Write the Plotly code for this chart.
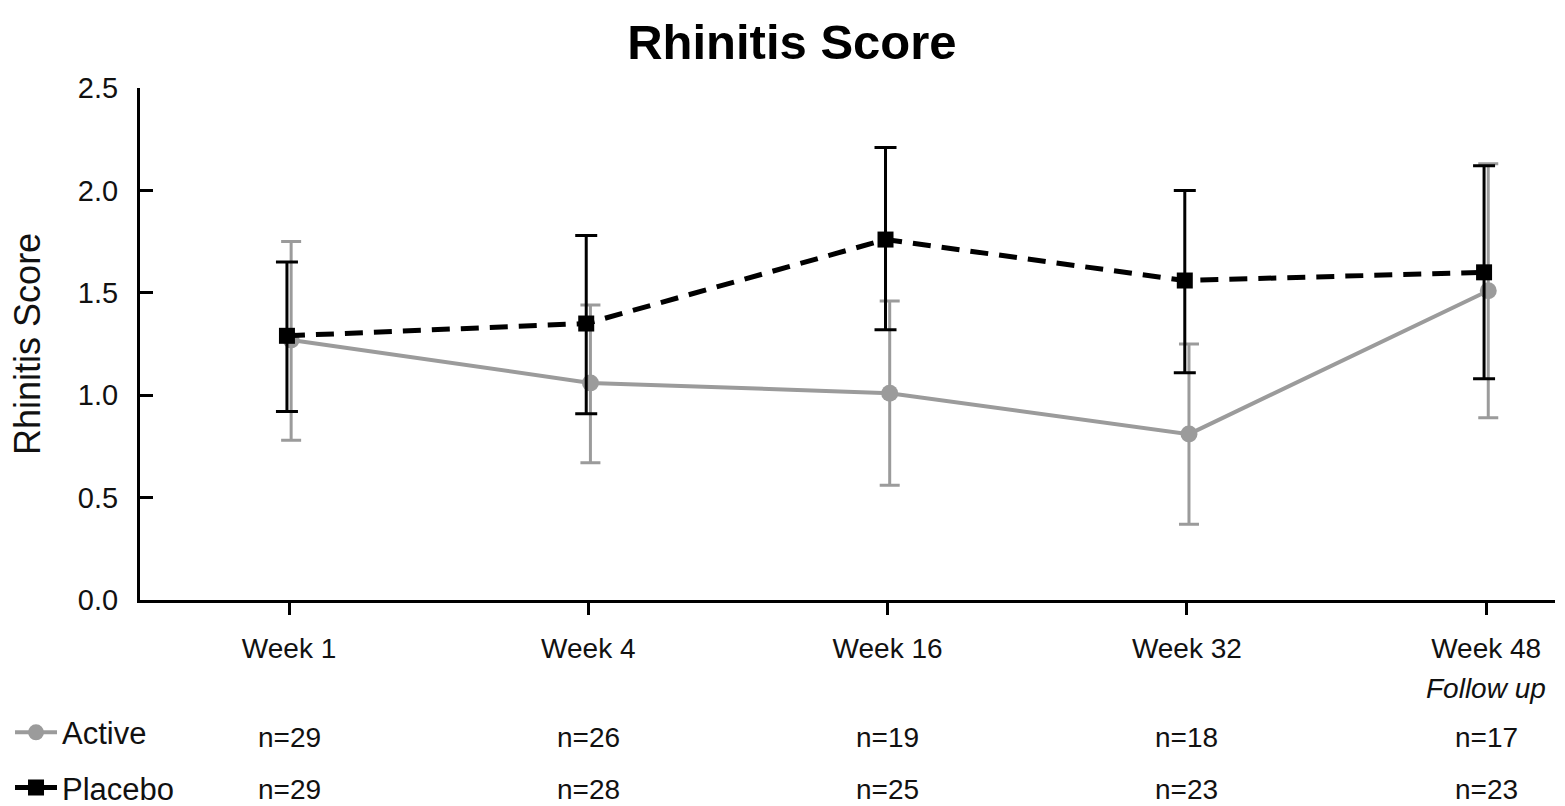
import plotly.graph_objects as go

# Visit labels and group sizes
weeks = ["Week 1", "Week 4", "Week 16", "Week 32", "Week 48"]
active_n = [29, 26, 19, 18, 17]
placebo_n = [29, 28, 25, 23, 23]

# Mean rhinitis score with lower / upper error limits
active_mean = [1.27, 1.06, 1.01, 0.81, 1.51]
active_upper = [1.75, 1.44, 1.46, 1.25, 2.13]
active_lower = [0.78, 0.67, 0.56, 0.37, 0.89]

placebo_mean = [1.29, 1.35, 1.76, 1.56, 1.60]
placebo_upper = [1.65, 1.78, 2.21, 2.00, 2.12]
placebo_lower = [0.92, 0.91, 1.32, 1.11, 1.08]

FONT = "Liberation Sans, Arial, Helvetica, sans-serif"
GREY = "#9b9b9b"
BLACK = "#000000"
TEXT = "#111111"

pos = list(range(len(weeks)))
dodge = 0.007

fig = go.Figure()

fig.add_trace(go.Scatter(
    x=[p + dodge for p in pos], y=active_mean,
    mode="lines+markers", name="Active", legendgroup="a",
    line=dict(color=GREY, width=4),
    marker=dict(symbol="circle", size=17, color=GREY),
    error_y=dict(type="data", symmetric=False,
                 array=[u - m for u, m in zip(active_upper, active_mean)],
                 arrayminus=[m - l for m, l in zip(active_mean, active_lower)],
                 color=GREY, thickness=3, width=10),
))

fig.add_trace(go.Scatter(
    x=[p - dodge for p in pos], y=placebo_mean,
    mode="lines+markers", name="Placebo", legendgroup="b",
    line=dict(color=BLACK, width=5, dash="18px,11px"),
    marker=dict(symbol="square", size=16, color=BLACK),
    error_y=dict(type="data", symmetric=False,
                 array=[u - m for u, m in zip(placebo_upper, placebo_mean)],
                 arrayminus=[m - l for m, l in zip(placebo_mean, placebo_lower)],
                 color=BLACK, thickness=3, width=11),
))

annotations = []
# Vertical axis title
annotations.append(dict(
    x=-0.0799, y=0.5, xref="paper", yref="paper", text="Rhinitis Score",
    textangle=-90, showarrow=False, font=dict(family=FONT, size=36, color=TEXT),
    xanchor="center", yanchor="middle"))
# Sub-label under the final visit
annotations.append(dict(
    x=pos[-1], y=-0.172, xref="x", yref="paper", text="<i>Follow up</i>",
    showarrow=False, font=dict(family=FONT, size=28, color=TEXT),
    xanchor="center", yanchor="middle"))
# Sample sizes per visit for each group
for p, na, nb in zip(pos, active_n, placebo_n):
    annotations.append(dict(
        x=p, y=-0.2695, xref="x", yref="paper", text=f"n={na}",
        showarrow=False, font=dict(family=FONT, size=28, color=TEXT),
        xanchor="center", yanchor="middle"))
    annotations.append(dict(
        x=p, y=-0.371, xref="x", yref="paper", text=f"n={nb}",
        showarrow=False, font=dict(family=FONT, size=28, color=TEXT),
        xanchor="center", yanchor="middle"))

fig.update_layout(
    width=1565, height=806,
    margin=dict(l=140, r=10, t=88, b=206, autoexpand=False),
    paper_bgcolor="white", plot_bgcolor="white",
    font=dict(family=FONT, color=TEXT),
    title=dict(text="<b>Rhinitis Score</b>", x=0.506, xanchor="center",
               y=0.948, yanchor="middle", yref="container",
               font=dict(family=FONT, size=49, color=BLACK)),
    xaxis=dict(range=[-0.498, 4.23], tickmode="array", tickvals=pos, ticktext=weeks,
               showline=True, linecolor=BLACK, linewidth=3, showgrid=False,
               zeroline=False, ticks="outside", ticklen=12, tickwidth=3,
               tickcolor=BLACK, tickfont=dict(family=FONT, size=28, color=TEXT),
               ticklabelstandoff=9, automargin=False),
    yaxis=dict(range=[0, 2.5], tickmode="array", tickvals=[0, 0.5, 1.0, 1.5, 2.0, 2.5],
               ticktext=["0.0", "0.5", "1.0", "1.5", "2.0", "2.5"],
               showline=True, linecolor=BLACK, linewidth=3, showgrid=False,
               zeroline=False, ticks="inside", ticklen=13, tickwidth=3,
               tickcolor=BLACK, tickfont=dict(family=FONT, size=29, color=TEXT),
               ticklabelstandoff=13, automargin=False),
    showlegend=True,
    legend=dict(x=0.0064, xref="container", xanchor="left",
                y=0.1245, yref="container", yanchor="top",
                traceorder="grouped", tracegroupgap=12,
                itemwidth=42, bgcolor="rgba(0,0,0,0)",
                font=dict(family=FONT, size=31, color=TEXT)),
    annotations=annotations,
)

fig.write_html("out.html")
